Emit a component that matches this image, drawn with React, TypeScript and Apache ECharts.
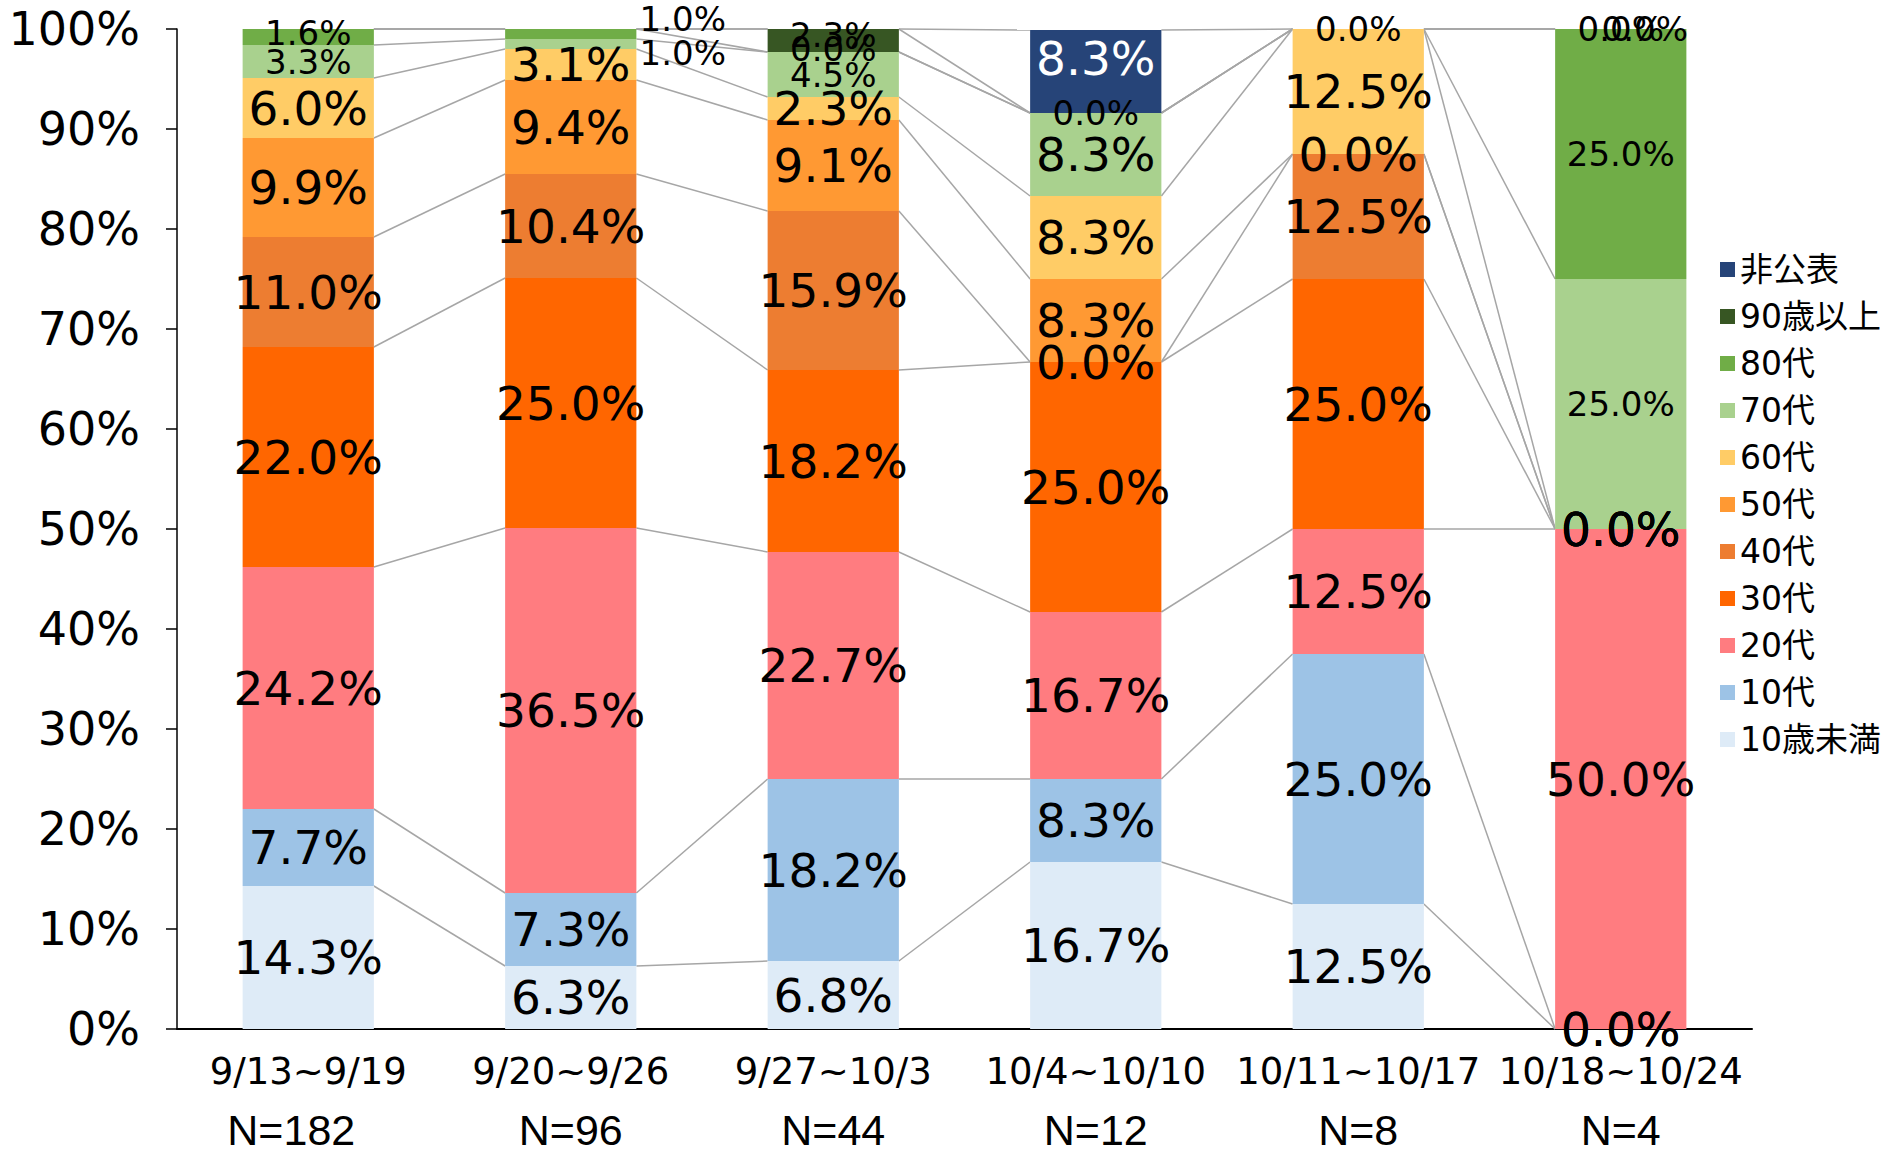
import React, { useEffect, useRef } from "react";
import * as echarts from "echarts";

// ---------- data ----------
const categories = ["9/13~9/19", "9/20~9/26", "9/27~10/3", "10/4~10/10", "10/11~10/17", "10/18~10/24"];
const nCounts = ["N=182", "N=96", "N=44", "N=12", "N=8", "N=4"];

const seriesNames = ["10歳未満", "10代", "20代", "30代", "40代", "50代", "60代", "70代", "80代", "90歳以上", "非公表"];

const under10 = [14.3, 6.3, 6.8, 16.7, 12.5, 0.0];
const teens = [7.7, 7.3, 18.2, 8.3, 25.0, 0.0];
const twenties = [24.2, 36.5, 22.7, 16.7, 12.5, 50.0];
const thirties = [22.0, 25.0, 18.2, 25.0, 25.0, 0.0];
const forties = [11.0, 10.4, 15.9, 0.0, 12.5, 0.0];
const fifties = [9.9, 9.4, 9.1, 8.3, 0.0, 0.0];
const sixties = [6.0, 3.1, 2.3, 8.3, 12.5, 0.0];
const seventies = [3.3, 1.0, 4.5, 8.3, 0.0, 25.0];
const eighties = [1.6, 1.0, 0.0, 0.0, null, 25.0];
const over90 = [null, null, 2.3, null, null, 0.0];
const undisclosed = [null, null, null, 8.3, null, 0.0];

const seriesValues: (number | null)[][] = [
  under10, teens, twenties, thirties, forties, fifties, sixties, seventies, eighties, over90, undisclosed,
];

// ---------- styles ----------
const colors = [
  "#DEEBF7", "#9DC3E6", "#FF7C80", "#FF6600", "#ED7D31", "#FF9933",
  "#FFCC66", "#A9D18E", "#70AD47", "#375623", "#264478",
];
const BIG = 47;
const SMALL = 34;
const FONT = "'DejaVu Sans', 'Noto Sans CJK JP', sans-serif";

const labelOverrides: Record<string, any> = {
  "7-3": { fontSize: BIG },
  "10-3": { fontSize: BIG, color: "#FFFFFF", offset: [0, -13] },
  "8-1": { offset: [112, -15] },
  "7-1": { offset: [112, 9] },
  "8-0": { offset: [0, -4] },
  "9-2": { offset: [0, -6] },
  "8-2": { offset: [0, -3] },
  "10-5": { offset: [24, 0] },
};

function labelFor(s: number, i: number) {
  const base: any = { fontSize: s >= 7 ? SMALL : BIG };
  const o = labelOverrides[`${s}-${i}`];
  return o ? { ...base, ...o } : base;
}

function cumTop(s: number, i: number) {
  let sum = 0;
  for (let k = 0; k <= s; k++) sum += seriesValues[k][i] ?? 0;
  return sum;
}

export default function App() {
  const ref = useRef<HTMLDivElement>(null);

  useEffect(() => {
    document.body.style.margin = "0";
    if (!ref.current) return;
    const chart = echarts.init(ref.current, undefined, { renderer: "svg" });

    const barSeries = seriesNames.map((name, s) => ({
      name,
      type: "bar",
      stack: "total",
      barWidth: "50%",
      xAxisIndex: 0,
      itemStyle: { color: colors[s] },
      label: {
        show: true,
        position: "inside",
        fontFamily: FONT,
        color: "#000000",
        formatter: (p: any) => Number(p.value).toFixed(1) + "%",
      },
      data: seriesValues[s].map((v, i) => (v == null ? "-" : { value: v, label: labelFor(s, i) })),
      z: 2,
    }));

    const lineData: number[][] = [];
    for (let s = 0; s < seriesNames.length; s++) {
      for (let i = 0; i < categories.length - 1; i++) {
        lineData.push([i, cumTop(s, i), cumTop(s, i + 1)]);
      }
    }

    const linesSeries = {
      name: "seriesLines",
      type: "custom",
      silent: true,
      clip: false,
      z: 1,
      xAxisIndex: 0,
      encode: { x: 0, y: [1, 2] },
      data: lineData,
      renderItem: (_params: any, api: any) => {
        const i = api.value(0);
        const a = api.value(1);
        const b = api.value(2);
        const band = api.size([1, 0])[0];
        const p1 = api.coord([i, a]);
        const p2 = api.coord([i + 1, b]);
        return {
          type: "line",
          shape: { x1: p1[0] + band * 0.25, y1: p1[1], x2: p2[0] - band * 0.25, y2: p2[1] },
          style: { stroke: "#A6A6A6", lineWidth: 1.5 },
        };
      },
    };

    chart.setOption({
      animation: false,
      backgroundColor: "#FFFFFF",
      grid: { left: 177, right: 143, top: 29, bottom: 124, containLabel: false, outerBoundsMode: "none" },
      legend: {
        orient: "vertical",
        left: 1715,
        top: 248,
        itemWidth: 15,
        itemHeight: 15,
        itemGap: 14,
        icon: "rect",
        selectedMode: false,
        data: [...seriesNames].reverse(),
        textStyle: { fontFamily: FONT, fontSize: 33, lineHeight: 33, color: "#000000" },
      },
      xAxis: [
        {
          type: "category",
          data: categories,
          axisLine: { show: true, lineStyle: { color: "#000000", width: 2 } },
          axisTick: { show: false },
          splitLine: { show: false },
          axisLabel: {
            interval: 0,
            margin: 21,
            fontFamily: FONT,
            fontSize: 37,
            lineHeight: 43,
            color: "#000000",
          },
        },
        {
          type: "category",
          data: nCounts,
          position: "bottom",
          axisLine: { show: false },
          axisTick: { show: false },
          splitLine: { show: false },
          axisLabel: {
            interval: 0,
            margin: 83,
            formatter: (v: string, idx: number) => (idx === 0 ? `{first|${v}}` : `{n|${v}}`),
            rich: {
              n: { fontFamily: "'Liberation Sans', sans-serif", fontSize: 43, lineHeight: 36, color: "#000000" },
              first: {
                fontFamily: "'Liberation Sans', sans-serif",
                fontSize: 43,
                lineHeight: 36,
                color: "#000000",
                padding: [0, 34, 0, 0],
              },
            },
          },
        },
      ],
      yAxis: {
        type: "value",
        min: 0,
        max: 100,
        interval: 10,
        axisLine: { show: true, lineStyle: { color: "#000000", width: 1.5 } },
        axisTick: { show: true, length: 11, lineStyle: { color: "#000000", width: 1.5 } },
        splitLine: { show: false },
        axisLabel: { formatter: "{value}%", fontFamily: FONT, fontSize: 46, color: "#000000", margin: 37 },
      },
      series: [...barSeries, linesSeries],
    });

    return () => chart.dispose();
  }, []);

  return <div ref={ref} style={{ width: 1895, height: 1153 }} />;
}
